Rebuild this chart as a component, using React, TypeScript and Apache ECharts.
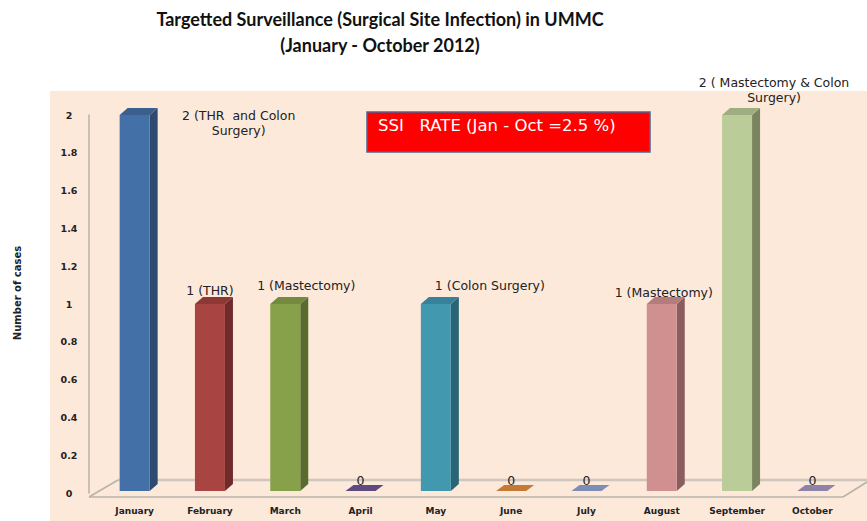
import React, { useEffect, useRef } from "react";
import * as echarts from "echarts";

const months = ["January", "February", "March", "April", "May", "June", "July", "August", "September", "October"];
const cases = [2, 1, 1, 0, 1, 0, 0, 1, 2, 0];
const caseLabels = [
  "2 (THR  and Colon\nSurgery)",
  "1 (THR)",
  "1 (Mastectomy)",
  "0",
  "1 (Colon Surgery)",
  "0",
  "0",
  "1 (Mastectomy)",
  "2 ( Mastectomy & Colon\nSurgery)",
  "0",
];
const yTicks = [0, 0.2, 0.4, 0.6, 0.8, 1, 1.2, 1.4, 1.6, 1.8, 2];
const titleText = "Targetted Surveillance (Surgical Site Infection) in UMMC\n(January - October 2012)";
const rateText = "SSI   RATE (Jan - Oct =2.5 %)";

// styling (not data)
const FRONT = ["#4470A8", "#A84442", "#87A04A", "#5E4A7E", "#4198AF", "#C27A35", "#7D8EB5", "#D09090", "#BACC98", "#8E82A8"];
const SIDE = ["#2E4A6E", "#6E2B2A", "#5A6B30", "#4A3A66", "#2A6575", "#8E5526", "#5E6E95", "#8A5E5E", "#7A8560", "#6E6488"];
const TOP = ["#3A5F8E", "#8E3836", "#748A3E", "#5E4A7E", "#37819A", "#C27A35", "#7D8EB5", "#B47C7C", "#9EAE80", "#8E82A8"];
const LABEL_OFF: [number, number][] = [
  [104, 8], [0, -14], [21, -19], [0, -13], [54, -19], [0, -13], [0, -13], [2, -12], [37, -25], [0, -13],
];

export default function App() {
  const ref = useRef<HTMLDivElement>(null);
  useEffect(() => {
    if (!ref.current) return;
    const chart = echarts.init(ref.current, null, { renderer: "svg" });
    const titleFont = "Lato, 'Liberation Sans', sans-serif";
    const font = "'DejaVu Sans', sans-serif";
    chart.setOption({
      animation: false,
      backgroundColor: "#ffffff",
      title: {
        text: titleText,
        left: 375,
        top: 1,
        textAlign: "center",
        textStyle: { fontSize: 18, fontWeight: "bold", fontFamily: titleFont, lineHeight: 26, color: "#111" },
      },
      grid: { left: 97, right: 17, top: 115, bottom: 28 },
      xAxis: {
        type: "category",
        data: months,
        axisLine: { show: false },
        axisTick: { show: false },
        axisLabel: { interval: 0, margin: 13, fontSize: 9, fontWeight: "bold", color: "#222", fontFamily: font },
      },
      yAxis: {
        type: "value",
        min: 0,
        max: yTicks[yTicks.length - 1],
        interval: yTicks[1] - yTicks[0],
        offset: 8,
        splitLine: { show: false },
        axisTick: { show: false },
        axisLine: { show: true, lineStyle: { color: "#b8b2aa", width: 1.5 } },
        axisLabel: { margin: 20, align: "center", fontSize: 9.5, fontWeight: "bold", color: "#222", fontFamily: font },
      },
      graphic: [
        { type: "rect", z: -100, silent: true, shape: { x: 50, y: 91, width: 817, height: 430 }, style: { fill: "#FCE9DA" } },
        { type: "line", shape: { x1: 89, y1: 497, x2: 843, y2: 497 }, style: { stroke: "#b8b2aa", lineWidth: 1.5 } },
        { type: "line", shape: { x1: 89, y1: 497, x2: 118, y2: 480 }, style: { stroke: "#b8b2aa", lineWidth: 1.5 } },
        { type: "line", shape: { x1: 118, y1: 480, x2: 867, y2: 480 }, style: { stroke: "#cfc7bd", lineWidth: 2.5 } },
        { type: "line", shape: { x1: 843, y1: 497, x2: 867, y2: 482 }, style: { stroke: "#b8b2aa", lineWidth: 1.5 } },
        {
          type: "text",
          x: 17,
          y: 293,
          rotation: Math.PI / 2,
          style: { text: "Number of cases", fontSize: 10, fontWeight: "bold", fill: "#222", align: "center", verticalAlign: "middle", fontFamily: font },
        },
        {
          type: "rect",
          shape: { x: 367, y: 112, width: 283, height: 40 },
          style: { fill: "#FF0000", stroke: "#4F6491", lineWidth: 1.5 },
        },
        {
          type: "text",
          x: 378,
          y: 125,
          style: { text: rateText, fontSize: 16.5, fill: "#ffffff", align: "left", verticalAlign: "middle", fontFamily: font },
        },
      ],
      series: [
        {
          type: "custom",
          data: cases.map((v, i) => [i, v]),
          renderItem: (params: any, api: any) => {
            const idx = params.dataIndex;
            const v = api.value(1);
            const pTop = api.coord([api.value(0), v]);
            const pBase = api.coord([api.value(0), 0]);
            const cx = pTop[0];
            const base = pBase[1] - 2;
            const top = pTop[1];
            const hw = 15, dx = 8, dy = 7;
            const children: any[] = [];
            if (v > 0) {
              children.push({
                type: "polygon",
                shape: { points: [[cx + hw, top], [cx + hw + dx, top - dy], [cx + hw + dx, base - dy], [cx + hw, base]] },
                style: { fill: SIDE[idx] },
              });
              children.push({
                type: "polygon",
                shape: { points: [[cx - hw, top], [cx - hw + dx, top - dy], [cx + hw + dx, top - dy], [cx + hw, top]] },
                style: { fill: TOP[idx] },
              });
              children.push({
                type: "rect",
                shape: { x: cx - hw, y: top, width: hw * 2, height: base - top },
                style: { fill: FRONT[idx] },
              });
            } else {
              children.push({
                type: "polygon",
                shape: { points: [[cx - hw, base], [cx - hw + dx, base - 6], [cx + hw + dx, base - 6], [cx + hw, base]] },
                style: { fill: FRONT[idx] },
              });
            }
            const off = LABEL_OFF[idx];
            children.push({
              type: "text",
              x: cx + off[0],
              y: top + off[1],
              style: {
                text: caseLabels[idx],
                fontSize: 12.5,
                fill: "#222",
                align: "center",
                verticalAlign: "middle",
                lineHeight: 15,
                fontFamily: font,
              },
            });
            return { type: "group", children };
          },
        },
      ],
    });
    return () => chart.dispose();
  }, []);
  return <div ref={ref} style={{ position: "absolute", left: 0, top: 0, width: 867, height: 521 }} />;
}
